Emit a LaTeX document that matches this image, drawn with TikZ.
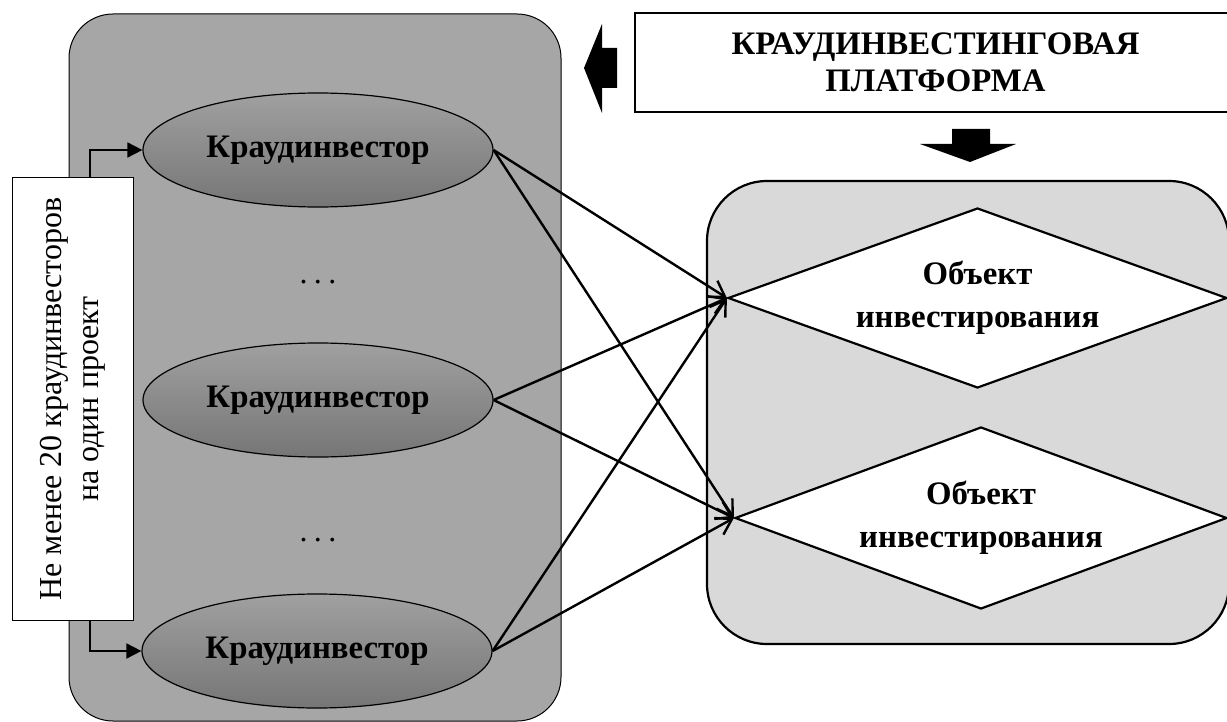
\documentclass[tikz,border=0pt]{standalone}
\usepackage{fontspec}
\setmainfont{Liberation Serif}
\usetikzlibrary{shapes.geometric,arrows.meta}
\definecolor{leftgray}{HTML}{A6A6A6}
\definecolor{rightgray}{HTML}{D9D9D9}
\definecolor{ovaltop}{HTML}{A0A0A0}
\definecolor{ovalbot}{HTML}{767676}
\begin{document}
\begin{tikzpicture}[x=0.5pt,y=-0.5pt,
  investor/.style={ellipse,draw,line width=0.6pt,top color=ovaltop,bottom color=ovalbot,minimum width=175pt,minimum height=57pt,inner sep=0pt,font=\fontsize{16.4}{18}\selectfont\bfseries},
  object/.style={diamond,draw,line width=1.1pt,fill=white,inner sep=0pt,aspect=2.75,align=center,font=\fontsize{16.4}{21.5}\selectfont\bfseries},
  gap/.style={font=\fontsize{16}{18}\selectfont},
  link/.style={line width=1.2pt,-{Straight Barb[length=7.5pt,width=9.5pt]}},
  bracket/.style={line width=0.9pt,-{Triangle[length=7.5pt,width=7.5pt]}}]
\useasboundingbox (0,0) rectangle (1227,722);
\draw[line width=0.5pt,fill=leftgray,rounded corners=22pt] (69,14) rectangle (561,721);
\draw[line width=1.1pt,fill=rightgray,rounded corners=30pt] (707,181) rectangle (1229,644);
\fill (584,68) -- (602,24) -- (602,48) -- (617,48) -- (617,88) -- (602,88) -- (602,113) -- cycle;
\fill (952,129) -- (990,129) -- (990,144) -- (1016,144) -- (970,162) -- (920,144) -- (952,144) -- cycle;
\node[draw,line width=1.1pt,minimum width=300.5pt,minimum height=49.5pt,align=center,font=\fontsize{16.4}{18.5}\selectfont\bfseries] (platform) at (935.5,62.5) {КРАУДИНВЕСТИНГОВАЯ\\ПЛАТФОРМА};
\node[investor] (inv1) at (318,150) {Краудинвестор};
\node[investor] (inv2) at (318,400) {Краудинвестор};
\node[investor] (inv3) at (317,651) {Краудинвестор};
\node[gap] (dots1) at (318,282) {.\hspace{0.2em}.\hspace{0.2em}.};
\node[gap] (dots2) at (318,540) {.\hspace{0.2em}.\hspace{0.2em}.};
\node[object,minimum width=249.5pt,minimum height=90pt] (obj1) at (977.5,298) {Объект\\инвестирования};
\node[object,minimum width=246pt,minimum height=91pt] (obj2) at (981,518) {Объект\\инвестирования};
\node[draw,line width=0.5pt,fill=white,rotate=90,minimum width=221pt,minimum height=60.5pt,align=center,font=\fontsize{16}{18.5}\selectfont] (note) at (72.5,399) {Не менее 20 краудинвесторов\\на один проект};
\draw[bracket] ([xshift=8.75pt]note.east) |- (inv1.west);
\draw[bracket] ([xshift=8.75pt]note.west) |- (inv3.west);
\draw[link] (inv1.east)--(obj1.west);\draw[link] (inv1.east)--(obj2.west);
\draw[link] (inv2.east)--(obj1.west);\draw[link] (inv2.east)--(obj2.west);
\draw[link] (inv3.east)--(obj1.west);\draw[link] (inv3.east)--(obj2.west);
\end{tikzpicture}
\end{document}
